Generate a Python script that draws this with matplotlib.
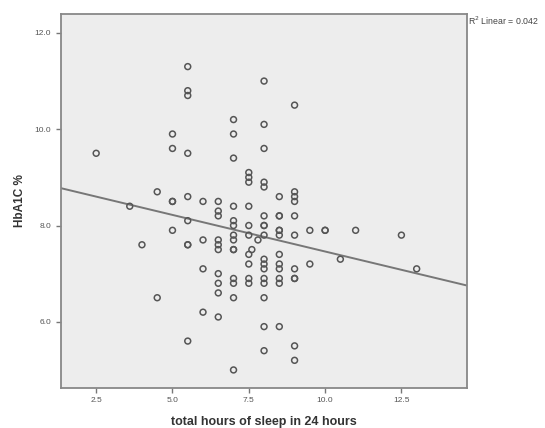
import numpy as np
import matplotlib
matplotlib.use("Agg")
import matplotlib.pyplot as plt

plt.rcParams['font.family'] = ['Liberation Sans', 'DejaVu Sans']

# hours of sleep / HbA1C pairs
sleep_hours = [
    2.5, 3.6, 4.0, 4.5, 4.5,
    5.0, 5.0, 5.0, 5.0, 5.0,
    5.5, 5.5, 5.5, 5.5, 5.5, 5.5, 5.5, 5.5, 5.5,
    6.0, 6.0, 6.0, 6.0,
    6.5, 6.5, 6.5, 6.5, 6.5, 6.5, 6.5, 6.5, 6.5, 6.5,
    7.0, 7.0, 7.0, 7.0, 7.0, 7.0, 7.0, 7.0, 7.0, 7.0, 7.0, 7.0, 7.0, 7.0,
    7.5, 7.5, 7.5, 7.5, 7.5, 7.5, 7.5, 7.5, 7.5, 7.5, 7.6, 7.8,
    8.0, 8.0, 8.0, 8.0, 8.0, 8.0, 8.0, 8.0, 8.0, 8.0, 8.0, 8.0, 8.0, 8.0,
    8.0, 8.0, 8.0,
    8.5, 8.5, 8.5, 8.5, 8.5, 8.5, 8.5, 8.5, 8.5, 8.5, 8.5, 8.5,
    9.0, 9.0, 9.0, 9.0, 9.0, 9.0, 9.0, 9.0, 9.0, 9.0, 9.0,
    9.5, 9.5, 10.0, 10.0, 10.5, 11.0, 12.5, 13.0,
]
hba1c = [
    9.5, 8.4, 7.6, 8.7, 6.5,
    9.9, 9.6, 8.5, 8.5, 7.9,
    11.3, 10.8, 10.7, 9.5, 8.6, 8.1, 7.6, 7.6, 5.6,
    8.5, 7.7, 7.1, 6.2,
    8.5, 8.3, 8.2, 7.7, 7.6, 7.5, 7.0, 6.8, 6.6, 6.1,
    10.2, 9.9, 9.4, 8.4, 8.1, 8.0, 7.8, 7.7, 7.5, 7.5, 6.9, 6.8, 6.5, 5.0,
    9.1, 9.0, 8.9, 8.4, 8.0, 7.8, 7.4, 7.2, 6.9, 6.8, 7.5, 7.7,
    11.0, 10.1, 9.6, 8.9, 8.8, 8.2, 8.0, 8.0, 7.8, 7.3, 7.2, 7.1, 6.9, 6.8,
    6.5, 5.9, 5.4,
    8.6, 8.2, 8.2, 7.9, 7.9, 7.8, 7.4, 7.2, 7.1, 6.9, 6.8, 5.9,
    10.5, 8.7, 8.6, 8.5, 8.2, 7.8, 7.1, 6.9, 6.9, 5.5, 5.2,
    7.9, 7.2, 7.9, 7.9, 7.3, 7.9, 7.8, 7.1,
]

# fit line as printed (intercept, slope)
fit_intercept = 8.98
fit_slope = -0.152
r2_text = "R$^2$ Linear = 0.042"

x_ticks = [2.5, 5.0, 7.5, 10.0, 12.5]
y_ticks = [6.0, 8.0, 10.0, 12.0]

fig = plt.figure(figsize=(5.45, 4.28), dpi=100)
ax = fig.add_axes([0.1115, 0.094, 0.746, 0.873])
ax.set_facecolor('#ededed')

ax.scatter(sleep_hours, hba1c, s=18, facecolors='none', edgecolors='#555555',
           linewidths=1.1, zorder=3)

xlim = (1.34, 14.66)
xs = np.array(xlim)
ax.plot(xs, fit_intercept + fit_slope * xs, color='#777777', lw=1.4, zorder=2)

ax.set_xlim(*xlim)
ax.set_ylim(4.63, 12.39)
ax.set_xticks(x_ticks)
ax.set_xticklabels([f'{t:.1f}' for t in x_ticks])
ax.set_yticks(y_ticks)
ax.set_yticklabels([f'{t:.1f}' for t in y_ticks])
ax.tick_params(direction='out', length=3.5, width=1, colors='#777777',
               labelsize=6, labelcolor='#555555')

for side in ['left', 'right', 'top', 'bottom']:
    ax.spines[side].set_color('#888888')
    ax.spines[side].set_linewidth(1.3)

ax.set_xlabel('total hours of sleep in 24 hours', fontsize=9,
              fontweight='bold', color='#333333', labelpad=8)
ax.set_ylabel('HbA1C %', fontsize=8.5, fontweight='bold', color='#333333',
              labelpad=6)

fig.text(0.858, 0.952, r2_text, fontsize=6.3, color='#444444', ha='left',
         va='center')

fig.savefig('out.png', dpi=100)
